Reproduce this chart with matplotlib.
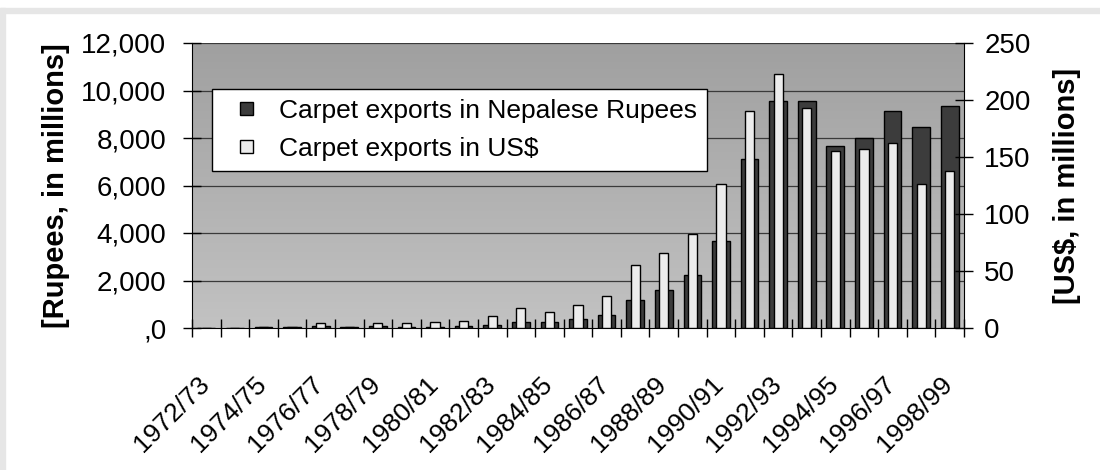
import numpy as np
import matplotlib
matplotlib.use('Agg')
import matplotlib.pyplot as plt
from matplotlib.patches import Rectangle
from matplotlib.legend_handler import HandlerPatch

plt.rcParams['font.family'] = ['Liberation Sans', 'DejaVu Sans']

years = ['1972/73', '1973/74', '1974/75', '1975/76', '1976/77', '1977/78', '1978/79',
         '1979/80', '1980/81', '1981/82', '1982/83', '1983/84', '1984/85', '1985/86',
         '1986/87', '1987/88', '1988/89', '1989/90', '1990/91', '1991/92', '1992/93',
         '1993/94', '1994/95', '1995/96', '1996/97', '1997/98', '1998/99']
# carpet exports, Nepalese Rupees (millions)
rupees = [0, 0, 60, 60, 70, 50, 70, 55, 55, 84, 126, 240, 235, 370, 550, 1170,
          1590, 2245, 3660, 7120, 9540, 9540, 7680, 8010, 9120, 8480, 9350]
# carpet exports, US$ (millions)
usd = [0, 0, 1, 1, 4, 1, 4.5, 4.1, 5, 6.4, 10.8, 17.5, 14.3, 20, 28.3, 55,
       66, 82.7, 126, 190, 223, 193, 155.5, 157, 162.5, 126, 138]

rs_ticks = [0, 2000, 4000, 6000, 8000, 10000, 12000]
rs_labels = [',0', '2,000', '4,000', '6,000', '8,000', '10,000', '12,000']
usd_ticks = [0, 50, 100, 150, 200, 250]

fig = plt.figure(figsize=(11, 4.7), dpi=100)
# light grey frame at top and left
fig.patches.append(Rectangle((0, 1 - 13 / 470), 1, 5 / 470, transform=fig.transFigure,
                             color='#e6e6e6', zorder=0))
fig.patches.append(Rectangle((0, 0), 5 / 1100, 1 - 8 / 470, transform=fig.transFigure,
                             color='#e6e6e6', zorder=0))

ax = fig.add_axes([192 / 1100, 1 - 328 / 470, 772 / 1100, 285 / 470])
x = np.arange(len(years))

# grey background, darker at top
grad = np.linspace(0, 1, 100).reshape(-1, 1)
ax.imshow(grad, extent=[0, 1, 0, 1], transform=ax.transAxes, aspect='auto',
          cmap=matplotlib.colors.LinearSegmentedColormap.from_list('bg', ['#c2c2c2', '#a0a0a0']),
          origin='lower', zorder=0)
for t in rs_ticks[1:]:
    ax.axhline(t, color='#3a3a3a', lw=0.9, zorder=1)

b1 = ax.bar(x, rupees, width=0.62, color='#3c3c3c', edgecolor='black', lw=1.0, zorder=2)
ax.set_xlim(-0.5, len(years) - 0.5)
ax.set_ylim(0, 12000)
ax.set_yticks(rs_ticks)
ax.set_yticklabels(rs_labels)

ax2 = ax.twinx()
b2 = ax2.bar(x, usd, width=0.32, color='#ececec', edgecolor='black', lw=1.0, zorder=3)
ax2.set_ylim(0, 250)
ax2.set_yticks(usd_ticks)

for a in (ax, ax2):
    for s in a.spines.values():
        s.set_visible(False)
ax.spines['left'].set_visible(True)
ax.spines['bottom'].set_visible(True)
ax2.spines['right'].set_visible(True)

# tick marks at category boundaries, labels (every other year) slightly left of centre
ax.set_xticks(np.arange(-0.5, len(years), 1))
ax.set_xticklabels([])
ax.set_xticks(x[::2] - 0.33, minor=True)
ax.set_xticklabels(years[::2], minor=True, rotation=45, ha='right', rotation_mode='anchor',
                   fontsize=19)
ax.tick_params(axis='x', which='major', direction='inout', length=13, width=1)
ax.tick_params(axis='x', which='minor', length=0, pad=32)
ax.tick_params(axis='y', direction='inout', length=13, width=1, labelsize=20, pad=12)
ax2.tick_params(axis='y', direction='inout', length=13, width=1, labelsize=20, pad=8)

ax.set_ylabel('[Rupees, in millions]', fontsize=21, fontweight='bold', labelpad=8)
ax2.set_ylabel('[US$, in millions]', fontsize=21, fontweight='bold', rotation=90, labelpad=16)


def small_square(legend, orig_handle, xdescent, ydescent, width, height, fontsize):
    s = 9.4
    return Rectangle((-xdescent + width - s, -ydescent + (height - s) / 2), s, s)


leg = ax.legend([b1.patches[0], b2.patches[0]],
                ['Carpet exports in Nepalese Rupees', 'Carpet exports in US$'],
                loc='upper left', bbox_to_anchor=(0.026, 0.839), borderaxespad=0,
                fancybox=False, edgecolor='black', framealpha=1, fontsize=19,
                handlelength=1.17, handleheight=0.7, borderpad=0.38, labelspacing=0.53,
                handletextpad=0.98,
                handler_map={Rectangle: HandlerPatch(patch_func=small_square)})
leg.get_frame().set_linewidth(1.0)
leg.set_zorder(5)

fig.savefig('out.png', dpi=100)
